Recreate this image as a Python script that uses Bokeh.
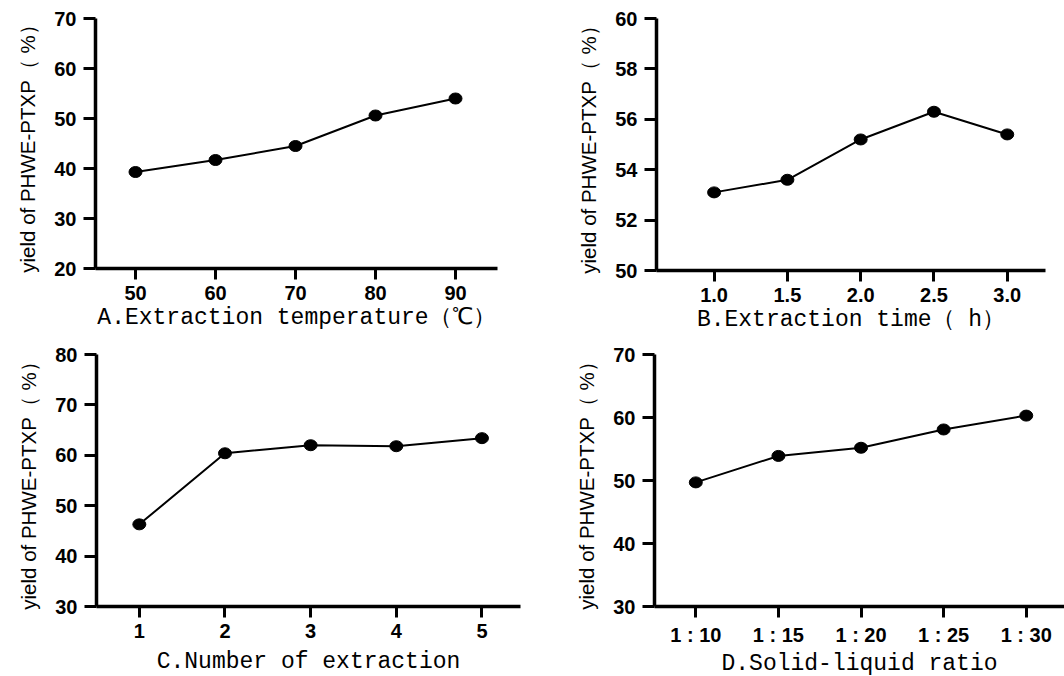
from bokeh.plotting import figure
from bokeh.layouts import column, row
from bokeh.models import Range1d, FixedTicker
from bokeh.embed import file_html
from bokeh.resources import INLINE

# ---- data ----
temp_c = [50, 60, 70, 80, 90]
yield_temp = [39.3, 41.7, 44.5, 50.6, 54.0]

time_h = [1.0, 1.5, 2.0, 2.5, 3.0]
time_labels = ["1.0", "1.5", "2.0", "2.5", "3.0"]
yield_time = [53.1, 53.6, 55.2, 56.3, 55.4]

n_extract = [1, 2, 3, 4, 5]
yield_n = [46.3, 60.4, 62.0, 61.8, 63.4]

ratio_labels = ["1 : 10", "1 : 15", "1 : 20", "1 : 25", "1 : 30"]
yield_ratio = [49.7, 53.9, 55.2, 58.1, 60.3]

y_title = "yield of PHWE-PTXP（ %）"
titles = ["A.Extraction temperature（℃）", "B.Extraction time（ h）",
          "C.Number of extraction", "D.Solid-liquid ratio"]


def panel(x, y, xr, yr, xticks, yticks, title, fw, fh, bl, br, bt, als=2, overrides=None):
    p = figure(frame_width=fw, frame_height=fh, x_range=Range1d(*xr), y_range=Range1d(*yr),
               output_backend="svg", toolbar_location=None,
               min_border_left=bl, min_border_right=br,
               min_border_top=bt, min_border_bottom=20)
    p.xgrid.visible = False
    p.ygrid.visible = False
    p.outline_line_color = None
    p.background_fill_color = "white"
    p.border_fill_color = "white"

    for ax in (p.xaxis[0], p.yaxis[0]):
        ax.axis_line_width = 3.5
        ax.axis_line_color = "black"
        ax.major_tick_line_width = 3
        ax.major_tick_line_color = "black"
        ax.major_tick_in = 0
        ax.minor_tick_line_color = None
        ax.major_label_text_font = "Liberation Sans"
        ax.major_label_text_font_style = "bold"
        ax.major_label_text_font_size = "20px"
        ax.major_label_text_color = "black"
        ax.axis_label_text_color = "black"

    p.yaxis.ticker = FixedTicker(ticks=yticks)
    p.yaxis.major_tick_out = 12
    p.yaxis.major_label_standoff = 7
    p.yaxis.axis_label = y_title
    p.yaxis.axis_label_text_font = "Liberation Sans"
    p.yaxis.axis_label_text_font_style = "normal"
    p.yaxis.axis_label_text_font_size = "20.5px"
    p.yaxis.axis_label_standoff = 12

    p.xaxis.ticker = FixedTicker(ticks=xticks)
    p.xaxis.major_tick_out = 11
    p.xaxis.major_label_standoff = 6
    p.xaxis.axis_label = title
    p.xaxis.axis_label_text_font = "Liberation Mono"
    p.xaxis.axis_label_text_font_style = "normal"
    p.xaxis.axis_label_text_font_size = "23px"
    p.xaxis.axis_label_standoff = als
    if overrides:
        p.xaxis.major_label_overrides = overrides

    p.line(x, y, line_width=2, color="black")
    p.ellipse(x, y, width=13, height=11, width_units="screen", height_units="screen",
              fill_color="black", line_color="black")
    return p


pA = panel(temp_c, yield_temp, (45, 95.25), (20, 70), temp_c, [20, 30, 40, 50, 60, 70],
           titles[0], 402, 250, 95, 33, 18)

pB = panel(time_h, yield_time, (0.607, 3.261), (50, 60), time_h, [50, 52, 54, 56, 58, 60],
           titles[1], 389, 252, 126, 19, 16,
           overrides={t: lab for t, lab in zip(time_h, time_labels)})

pC = panel(n_extract, yield_n, (0.5, 5.45), (30, 80), n_extract, [30, 40, 50, 60, 70, 80],
           titles[2], 424, 252, 96, 10, 21, als=8)

ratio_x = list(range(1, len(ratio_labels) + 1))
pD = panel(ratio_x, yield_ratio, (0.5, 5.463), (30, 70), ratio_x, [30, 40, 50, 60, 70],
           titles[3], 410, 252, 124, 0, 21,
           overrides={i: lab for i, lab in zip(ratio_x, ratio_labels)})

layout = column(row(pA, pB), row(pC, pD))

open("out.html", "w").write(file_html(layout, INLINE))
